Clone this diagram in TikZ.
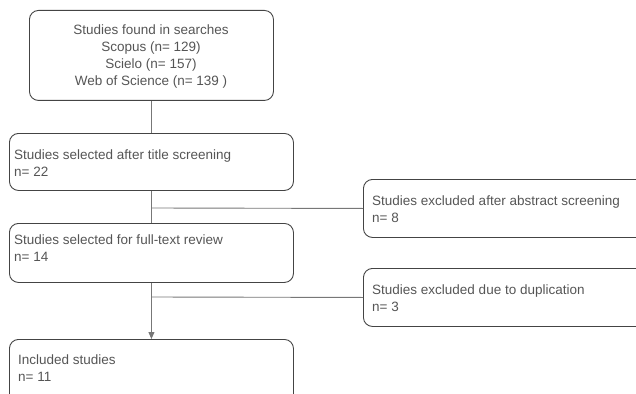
\documentclass[tikz,border=0pt]{standalone}
\usepackage{fontspec}
\setmainfont{Liberation Sans}
\usetikzlibrary{arrows.meta}
\definecolor{txtgray}{HTML}{555555}
\definecolor{boxgray}{HTML}{444444}
\definecolor{linegray}{HTML}{777777}
\tikzset{
  flowbox/.style={draw=boxgray, line width=0.9pt, rounded corners=9pt, inner sep=0pt},
  flowtext/.style={text=txtgray, font=\fontsize{13.5}{16.7}\selectfont, inner sep=0pt, anchor=north west, align=left},
  ctrtext/.style={text=txtgray, font=\fontsize{13.5}{16.7}\selectfont, inner sep=0pt, anchor=north, align=center},
  conn/.style={draw=linegray, line width=0.9pt},
}
\begin{document}
\begin{tikzpicture}[x=1pt,y=-1pt]
\useasboundingbox (0,0) rectangle (636,393);
\clip (0,0) rectangle (636,393);
% boxes
\node[flowbox, minimum width=244pt, minimum height=90pt, anchor=north west] (found) at (29,10) {};
\node[flowbox, minimum width=284pt, minimum height=57pt, anchor=north west] (title) at (9,133) {};
\node[flowbox, minimum width=290pt, minimum height=58pt, anchor=north west] (abs) at (363,179) {};
\node[flowbox, minimum width=284pt, minimum height=59pt, anchor=north west] (full) at (9,223) {};
\node[flowbox, minimum width=290pt, minimum height=58pt, anchor=north west] (dup) at (363,268) {};
\node[flowbox, minimum width=284pt, minimum height=70pt, anchor=north west] (incl) at (9,339) {};
% texts
\node[ctrtext] (foundtxt) at (151,25) {Studies found in searches\\Scopus (n= 129)\\Scielo (n= 157)\\Web of Science (n= 139 )};
\node[flowtext] (titletxt) at (14,150) {Studies selected after title screening\\n= 22};
\node[flowtext] (abstxt) at (372,195.5) {Studies excluded after abstract screening\\n= 8};
\node[flowtext] (fulltxt) at (14,235) {Studies selected for full-text review\\n= 14};
\node[flowtext] (duptxt) at (372,284.5) {Studies excluded due to duplication\\n= 3};
\node[flowtext] (incltxt) at (18,355) {Included studies\\n= 11};
% connectors
\coordinate (j1) at (151,208);
\coordinate (j2) at (151,297);
\draw[conn] (found.south) -- (title.north);
\draw[conn] (title.south) -- (full.north);
\draw[conn] (j1) -- (abs.west);
\draw[conn, -{Triangle[length=7pt,width=6pt]}] (full.south) -- (incl.north);
\draw[conn] (j2) -- (dup.west);
\end{tikzpicture}
\end{document}
